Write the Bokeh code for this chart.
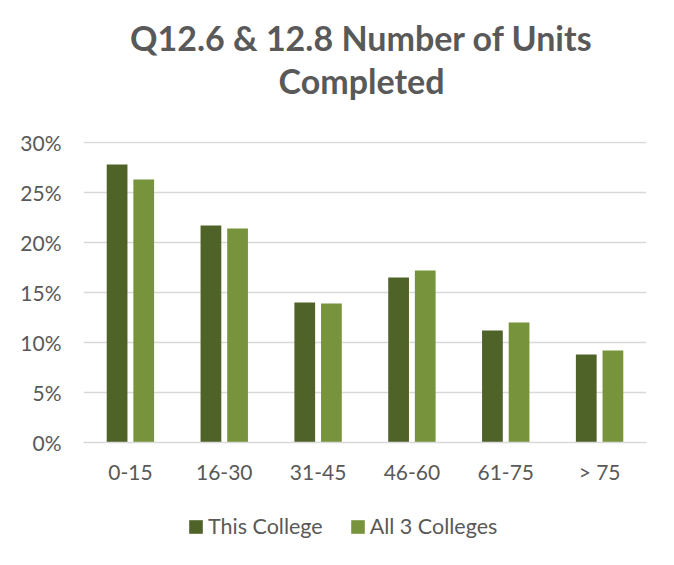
from bokeh.plotting import figure
from bokeh.layouts import column
from bokeh.models import (ColumnDataSource, FactorRange, Range1d, FixedTicker,
                          NumeralTickFormatter, Label, Legend, LegendItem)
from bokeh.transform import dodge
from bokeh.embed import file_html
from bokeh.resources import INLINE

categories = ["0-15", "16-30", "31-45", "46-60", "61-75", "> 75"]
this_college = [0.278, 0.217, 0.140, 0.165, 0.112, 0.088]
all_colleges = [0.263, 0.214, 0.139, 0.172, 0.120, 0.092]
y_ticks = [0.0, 0.05, 0.10, 0.15, 0.20, 0.25, 0.30]
title_lines = ["Q12.6 & 12.8 Number of Units", "Completed"]
series_names = ["This College", "All 3 Colleges"]

DARK = "#4F6228"
LIGHT = "#77933C"
TXT = "#595959"
GRID = "#D9D9D9"
FONT = "Lato"
W = 666

src = ColumnDataSource(dict(cat=categories, a=this_college, b=all_colleges))


def blank(fig):
    fig.axis.visible = False
    fig.grid.grid_line_color = None
    fig.outline_line_color = None
    return fig


# ---- header with the two title lines (frames are aligned with the chart's frame)
head = blank(figure(width=W, height=120, x_range=Range1d(0, 1), y_range=Range1d(0, 1),
                    output_backend="svg", toolbar_location=None, min_border=0))
for i, line in enumerate(title_lines):
    head.add_layout(Label(x=278, y=83 - 43 * i, x_units="screen", y_units="screen",
                          text=line, text_align="center", text_baseline="alphabetic",
                          text_font=FONT, text_font_style="bold",
                          text_font_size="34px", text_color=TXT))

# ---- main chart
p = figure(width=W, height=375, x_range=FactorRange(factors=categories),
           y_range=Range1d(0, 0.301), output_backend="svg", toolbar_location=None,
           min_border_left=83, min_border_right=20, min_border_top=21,
           min_border_bottom=53)
p.outline_line_color = None

p.vbar(x=dodge("cat", -0.142, range=p.x_range), top="a", width=0.221,
       source=src, fill_color=DARK, line_color=None)
p.vbar(x=dodge("cat", 0.142, range=p.x_range), top="b", width=0.221,
       source=src, fill_color=LIGHT, line_color=None)

p.xgrid.grid_line_color = None
p.ygrid.grid_line_color = GRID
p.ygrid.grid_line_width = 1.3
p.yaxis.ticker = FixedTicker(ticks=y_ticks)
p.yaxis.formatter = NumeralTickFormatter(format="0%")
for ax in (p.xaxis, p.yaxis):
    ax.major_tick_line_color = None
    ax.minor_tick_line_color = None
    ax.major_label_text_font = FONT
    ax.major_label_text_font_size = "21px"
    ax.major_label_text_color = TXT
p.yaxis.axis_line_color = None
p.yaxis.major_label_standoff = 16
p.xaxis.axis_line_color = GRID
p.xaxis.axis_line_width = 1.3
p.xaxis.major_label_standoff = 10

# ---- footer with the legend
foot = blank(figure(width=W, height=70, x_range=FactorRange(factors=categories),
                    y_range=Range1d(1, 2), output_backend="svg",
                    toolbar_location=None, min_border=0))
f1 = foot.vbar(x="cat", top="a", width=0.2, source=src, fill_color=DARK, line_color=None)
f2 = foot.vbar(x="cat", top="b", width=0.2, source=src, fill_color=LIGHT, line_color=None)
legend = Legend(items=[LegendItem(label=series_names[0], renderers=[f1]),
                       LegendItem(label=series_names[1], renderers=[f2])],
                location=(104, 26), orientation="horizontal",
                glyph_width=17, glyph_height=17, label_standoff=4, spacing=26,
                padding=0, margin=0, border_line_color=None,
                background_fill_alpha=0, label_text_font=FONT,
                label_text_font_size="21.5px", label_text_color=TXT)
foot.add_layout(legend)

layout = column(head, p, foot, spacing=0)
open("out.html", "w").write(file_html(layout, INLINE))
